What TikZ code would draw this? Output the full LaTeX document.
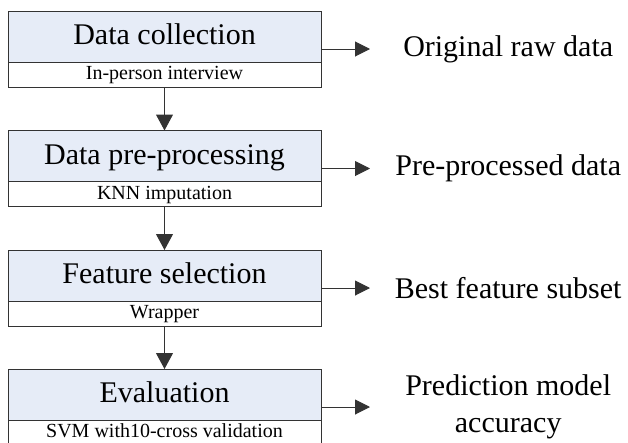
\documentclass[tikz,border=0pt]{standalone}
\usepackage{fontspec}
\setmainfont{Liberation Serif}
\usetikzlibrary{positioning, calc, arrows.meta}
\definecolor{headblue}{RGB}{230,236,247}

\begin{document}
\begin{tikzpicture}[
  x=1pt, y=1pt,
  stage/.style={draw=black!80, line width=0.9pt, fill=headblue, minimum width=313pt, minimum height=51pt,
    inner sep=0pt, outer sep=0pt, text height=22pt, text depth=6pt, font=\fontsize{30}{36}\selectfont},
  method/.style={draw=black!80, line width=0.9pt, fill=white, minimum width=313pt, minimum height=25pt,
    inner sep=0pt, outer sep=0pt, text height=14pt, text depth=4pt, font=\fontsize{20}{24}\selectfont},
  result/.style={minimum width=276pt, inner sep=0pt, align=center, font=\fontsize{30}{37}\selectfont},
  down arrow/.style={draw=black!80, line width=1pt, -{Triangle[length=16pt,width=17pt]}},
  out arrow/.style={draw=black!80, line width=1pt, -{Triangle[length=15pt,width=15pt]}}
]
\useasboundingbox (0,0) rectangle (628,-442);
\clip (0,0) rectangle (628,-442);

% Stages of the process
\node[stage] (collect) at (164.5,-36.5) {Data collection};
\node[method, below=0pt of collect] (collectm) {In-person interview};
\node[stage, below=43.5pt of collectm] (prep) {Data pre-processing};
\node[method, below=0pt of prep] (prepm) {KNN imputation};
\node[stage, below=43.5pt of prepm] (select) {Feature selection};
\node[method, below=0pt of select] (selectm) {Wrapper};
\node[stage, below=43pt of selectm] (eval) {Evaluation};
\node[method, below=0pt of eval] (evalm) {SVM with10-cross validation};

\draw[down arrow] (collectm) -- (prep);
\draw[down arrow] (prepm) -- (select);
\draw[down arrow] (selectm) -- (eval);

% Outputs on the right
\coordinate (collectmid) at ($(collect.north east)!.5!(collectm.south east)$);
\coordinate (prepmid) at ($(prep.north east)!.5!(prepm.south east)$);
\coordinate (selectmid) at ($(select.north east)!.5!(selectm.south east)$);
\coordinate (evalmid) at ($(eval.north east)!.5!(evalm.south east)$);

\node[result, right=49pt of collectmid] (raw) {Original raw data};
\node[result, right=49pt of prepmid] (preproc) {Pre-processed data};
\node[result, right=49pt of selectmid] (subset) {Best feature subset};
\node[result, right=49pt of evalmid] (accuracy) {Prediction model\\accuracy};

\draw[out arrow] (collectmid) -- (raw);
\draw[out arrow] (prepmid) -- (preproc);
\draw[out arrow] (selectmid) -- (subset);
\draw[out arrow] (evalmid) -- (accuracy);
\end{tikzpicture}
\end{document}
